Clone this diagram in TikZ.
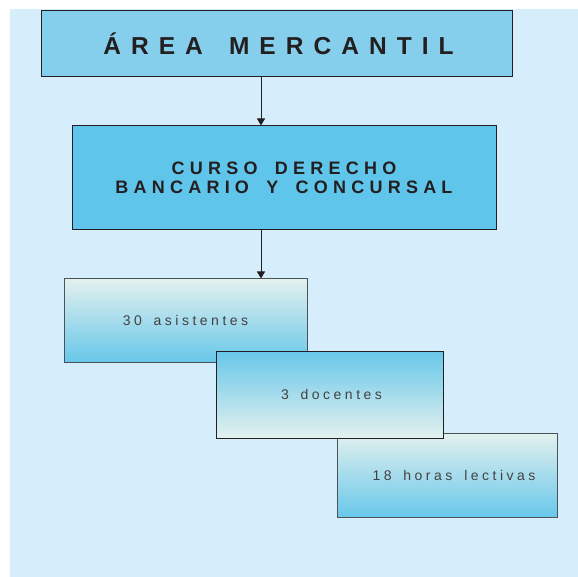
\documentclass[tikz,border=0pt]{standalone}
\usepackage{fontspec}
\setmainfont{Liberation Sans}
\newfontfamily\letratitulo{Liberation Sans}[LetterSpace=41,WordSpace=1.55]
\newfontfamily\letracurso{Liberation Sans}[LetterSpace=29,WordSpace=1.7]
\newfontfamily\letradato{Liberation Sans}[LetterSpace=25,WordSpace=1.6]
\usetikzlibrary{arrows.meta}
\definecolor{fondo}{HTML}{D6EDFB}
\definecolor{azulA}{HTML}{85CFEC}
\definecolor{azulB}{HTML}{60C5EA}
\definecolor{azulC}{HTML}{68C7EA}
\definecolor{claro}{HTML}{E3F1EE}
\definecolor{tinta}{HTML}{231F20}
\definecolor{borde}{HTML}{4A5358}
\tikzset{
  caja/.style={draw=tinta, line width=1pt, inner sep=0pt, text=tinta},
  dato/.style={draw=borde, line width=1pt, inner sep=0pt, text=tinta!85,
    font=\letradato\fontsize{14}{16}\selectfont},
  baja/.style={dato, top color=claro, middle color=claro!72!azulC, bottom color=azulC},
  sube/.style={dato, top color=azulC, middle color=claro!72!azulC, bottom color=claro},
  flecha/.style={draw=tinta, line width=0.9pt, -{Triangle[width=8pt,length=7pt]}}
}
\begin{document}
\begin{tikzpicture}[x=1pt,y=-1pt]
\useasboundingbox (0,0) rectangle (578,577);
\fill[fondo] (10,9) rectangle (578,577);
% cabecera
\node[caja, fill=azulA, minimum width=471pt, minimum height=66pt,
  font=\letratitulo\fontsize{24.5}{28}\selectfont\bfseries]
  (area) at (276.5,43.5) {\hspace{4pt}ÁREA MERCANTIL};
\node[caja, fill=azulB, minimum width=424pt, minimum height=104pt, align=center,
  font=\letracurso\fontsize{18}{19}\selectfont\bfseries]
  (curso) at (284,178) {CURSO DERECHO\\BANCARIO Y CONCURSAL};
% datos del curso
\node[baja, minimum width=243pt, minimum height=83pt] (asis) at (185.5,320.5) {30 asistentes};
\node[baja, minimum width=220pt, minimum height=84pt] (horas) at (447,475) {\hspace{14pt}18 horas lectivas};
\node[sube, draw=tinta, minimum width=227pt, minimum height=87pt] (doc) at (329.5,394.5) {\hspace{4pt}3 docentes};
% flechas
\coordinate (eje) at (261,0);
\draw[flecha] (area.south -| eje) -- (curso.north -| eje);
\draw[flecha] (curso.south -| eje) -- (asis.north -| eje);
\end{tikzpicture}
\end{document}
